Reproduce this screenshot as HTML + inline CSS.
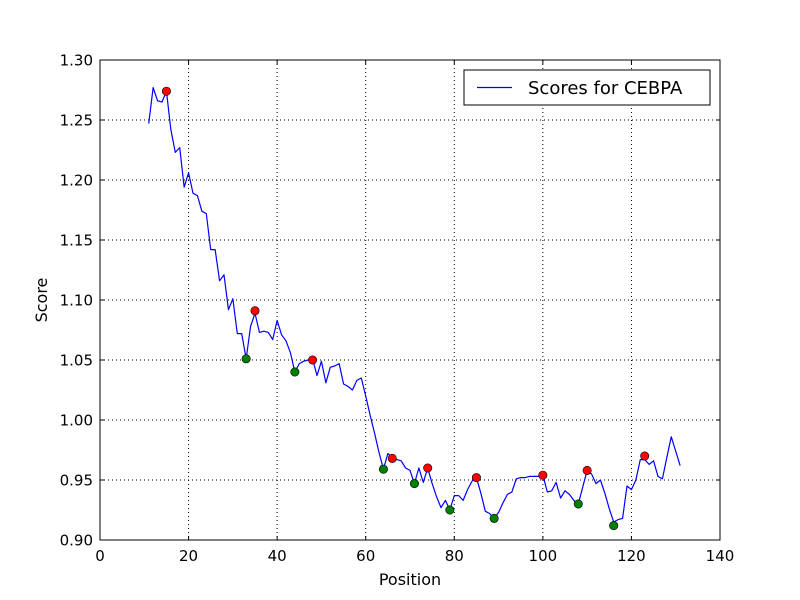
<!DOCTYPE html>
<html><head><meta charset="utf-8"><style>
body{margin:0;background:#fff;}
svg{display:block;font-family:"DejaVu Sans","Liberation Sans",sans-serif;}
</style></head><body>
<svg id="chart" width="800" height="600" xmlns="http://www.w3.org/2000/svg">
<rect width="800" height="600" fill="#fff"/>
<g id="grid"></g>
<g id="series"></g>
<rect x="100" y="60" width="620" height="480" fill="none" stroke="#000" stroke-width="1"/>
<g id="ticks"></g>
<text x="410" y="585" font-size="16" text-anchor="middle">Position</text>
<text x="47" y="300" font-size="16" text-anchor="middle" transform="rotate(-90 47 300)">Score</text>
<g>
<rect x="464" y="70" width="246" height="35" fill="#fff" stroke="#000" stroke-width="1"/>
<line x1="477" y1="87.5" x2="512" y2="87.5" stroke="#0000ff" stroke-width="1.3"/>
<text x="528" y="94" font-size="18">Scores for CEBPA</text>
</g>
</svg>
<script>
const positions=[];for(let i=11;i<=131;i++)positions.push(i);
const scores=[1.247,1.277,1.266,1.265,1.274,1.242,1.223,1.227,1.194,1.206,1.189,1.187,1.174,1.172,1.142,1.142,1.116,1.121,1.092,1.101,1.072,1.072,1.051,1.078,1.089,1.073,1.074,1.073,1.067,1.083,1.071,1.066,1.056,1.040,1.047,1.049,1.050,1.051,1.037,1.049,1.031,1.044,1.045,1.047,1.030,1.028,1.025,1.033,1.035,1.020,1.004,0.989,0.973,0.959,0.972,0.969,0.967,0.966,0.960,0.958,0.947,0.960,0.948,0.960,0.947,0.936,0.927,0.933,0.925,0.937,0.937,0.933,0.942,0.949,0.952,0.939,0.924,0.922,0.918,0.923,0.931,0.938,0.940,0.951,0.952,0.952,0.953,0.953,0.953,0.954,0.940,0.941,0.948,0.935,0.941,0.938,0.933,0.930,0.944,0.958,0.955,0.947,0.950,0.939,0.926,0.915,0.917,0.918,0.945,0.942,0.950,0.967,0.967,0.963,0.966,0.953,0.951,0.969,0.986,0.974,0.962];
const redX=[15,35,48,66,74,85,100,110,123];
const redY=[1.274,1.091,1.050,0.968,0.960,0.952,0.954,0.958,0.970];
const greenX=[33,44,64,71,79,89,108,116];
const greenY=[1.051,1.040,0.959,0.947,0.925,0.918,0.930,0.912];
const xTicks=[0,20,40,60,80,100,120,140];
const yTicks=[0.90,0.95,1.00,1.05,1.10,1.15,1.20,1.25,1.30];
const NS="http://www.w3.org/2000/svg";
const X0=100,X1=720,Y0=540,Y1=60;
const sx=v=>X0+(v-0)/(140-0)*(X1-X0);
const sy=v=>Y0-(v-0.9)/(1.3-0.9)*(Y0-Y1);
function mk(tag,attrs,parent){const e=document.createElementNS(NS,tag);for(const k in attrs)e.setAttribute(k,attrs[k]);parent.appendChild(e);return e;}
const grid=document.getElementById('grid'),ticks=document.getElementById('ticks'),series=document.getElementById('series');
xTicks.forEach(t=>{
  const x=sx(t);
  if(t>0&&t<140){const g=mk('line',{x1:x,y1:Y1,x2:x,y2:Y0,stroke:'#000','stroke-dasharray':'1,3','stroke-width':1},grid);
  
  }
  mk('line',{x1:x,y1:Y0,x2:x,y2:Y0-4,stroke:'#000'},ticks);
  mk('line',{x1:x,y1:Y1,x2:x,y2:Y1+4,stroke:'#000'},ticks);
  const l=mk('text',{x:x,y:Y0+21,'font-size':15,'text-anchor':'middle'},ticks);l.textContent=t;
  
  
});
yTicks.forEach(t=>{
  const y=sy(t);
  if(t>0.91&&t<1.29){const g=mk('line',{x1:X0,y1:y,x2:X1,y2:y,stroke:'#000','stroke-dasharray':'1,3','stroke-width':1},grid);
  
  }
  mk('line',{x1:X0,y1:y,x2:X0+4,y2:y,stroke:'#000'},ticks);
  mk('line',{x1:X1,y1:y,x2:X1-4,y2:y,stroke:'#000'},ticks);
  const l=mk('text',{x:X0-7,y:y+5.5,'font-size':15,'text-anchor':'end'},ticks);l.textContent=t.toFixed(2);
  
  
});
const pts=positions.map((p,i)=>sx(p).toFixed(2)+','+sy(scores[i]).toFixed(2)).join(' ');
const line=mk('polyline',{points:pts,fill:'none',stroke:'#0000ff','stroke-width':1.2,'stroke-linejoin':'round'},series);


redX.forEach((p,i)=>{const c=mk('circle',{cx:sx(p),cy:sy(redY[i]),r:4.2,fill:'#ff0000',stroke:'#000','stroke-width':0.6},series);

});
greenX.forEach((p,i)=>{const c=mk('circle',{cx:sx(p),cy:sy(greenY[i]),r:4.2,fill:'#007f00',stroke:'#000','stroke-width':0.6},series);

});
</script>
</body></html>
